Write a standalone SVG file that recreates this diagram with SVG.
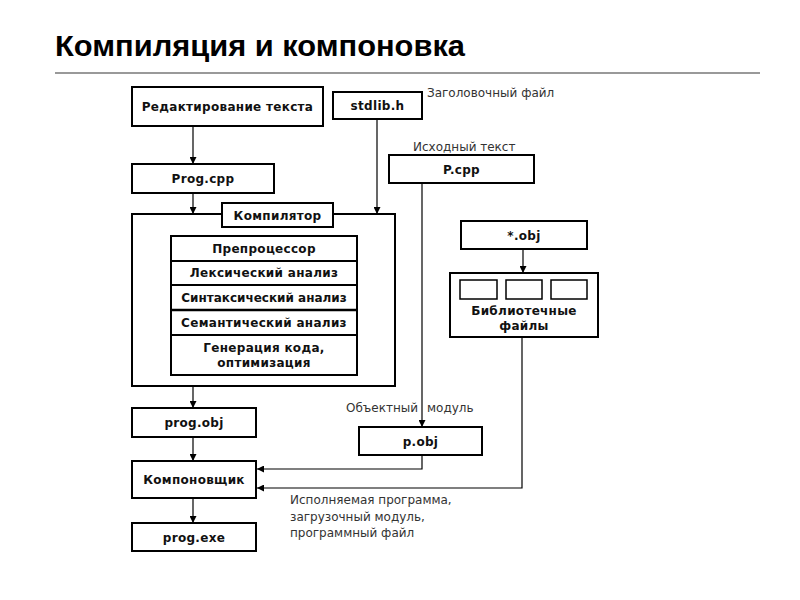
<svg xmlns="http://www.w3.org/2000/svg" width="800" height="600" viewBox="0 0 800 600">
<style>
.box{fill:#fff;stroke:#000;stroke-width:2}
.lbl{font-family:"DejaVu Sans",sans-serif;font-size:12px;font-weight:bold;fill:#111;text-anchor:middle;letter-spacing:0.3px}
.note{font-family:"DejaVu Sans",sans-serif;font-size:12px;fill:#333}
.con{fill:none;stroke:#000;stroke-width:1.2}
</style>
<defs>
<marker id="ah" viewBox="0 0 10 10" refX="10" refY="5" markerWidth="7" markerHeight="7" markerUnits="userSpaceOnUse" orient="auto">
<path d="M0,0 L10,5 L0,10 Z" fill="#000"/>
</marker>
</defs>
<rect width="800" height="600" fill="#fff"/>
<text x="55" y="56" font-family="Liberation Sans,Arial,sans-serif" font-size="29" font-weight="bold" fill="#000" textLength="410" lengthAdjust="spacingAndGlyphs">Компиляция и компоновка</text>
<line x1="55" y1="73" x2="760" y2="73" stroke="#999" stroke-width="2"/>

<g id="connectors">
<line class="con" x1="193" y1="126" x2="193" y2="164" marker-end="url(#ah)"/>
<line class="con" x1="193" y1="193" x2="193" y2="214" marker-end="url(#ah)"/>
<line class="con" x1="377" y1="119" x2="377" y2="214" marker-end="url(#ah)"/>
<line class="con" x1="193" y1="386" x2="193" y2="408" marker-end="url(#ah)"/>
<line class="con" x1="193" y1="437" x2="193" y2="461" marker-end="url(#ah)"/>
<line class="con" x1="193" y1="498" x2="193" y2="523" marker-end="url(#ah)"/>
<line class="con" x1="422" y1="183" x2="422" y2="427" marker-end="url(#ah)"/>
<polyline class="con" points="422,455 422,469 257,469" marker-end="url(#ah)"/>
<line class="con" x1="523" y1="249" x2="523" y2="273" marker-end="url(#ah)"/>
<polyline class="con" points="522,337 522,488 257,488" marker-end="url(#ah)"/>
</g>

<g id="edit"><rect class="box" x="132" y="87" width="191" height="39"/><text class="lbl" x="227.5" y="111">Редактирование текста</text></g>
<g id="stdlib"><rect class="box" x="333" y="92" width="89" height="27"/><text class="lbl" x="377.5" y="110">stdlib.h</text></g>
<text class="note" x="427" y="97">Заголовочный файл</text>
<text class="note" x="413" y="151">Исходный текст</text>
<g id="pcpp"><rect class="box" x="389" y="155" width="145" height="28"/><text class="lbl" x="461.5" y="174">P.cpp</text></g>
<g id="progcpp"><rect class="box" x="132" y="164" width="142" height="29"/><text class="lbl" x="203" y="183">Prog.cpp</text></g>

<g id="compiler">
<rect class="box" x="132" y="214" width="263" height="172"/>
<rect class="box" x="222" y="203" width="111" height="24"/>
<text class="lbl" x="277.5" y="220">Компилятор</text>
<rect class="box" x="171" y="236" width="186" height="139"/>
<line x1="171" y1="261" x2="357" y2="261" stroke="#000" stroke-width="2"/>
<line x1="171" y1="285" x2="357" y2="285" stroke="#000" stroke-width="2"/>
<line x1="171" y1="310" x2="357" y2="310" stroke="#000" stroke-width="2.5"/>
<line x1="171" y1="335" x2="357" y2="335" stroke="#000" stroke-width="2"/>
<text class="lbl" x="264" y="253">Препроцессор</text>
<text class="lbl" x="264" y="277">Лексический анализ</text>
<text class="lbl" x="264" y="302" style="letter-spacing:0">Синтаксический анализ</text>
<text class="lbl" x="264" y="327">Семантический анализ</text>
<text class="lbl" x="264" y="352">Генерация кода,</text>
<text class="lbl" x="264" y="367">оптимизация</text>
</g>

<g id="objstar"><rect class="box" x="461" y="221" width="126" height="28"/><text class="lbl" x="524" y="240">*.obj</text></g>
<g id="lib">
<rect class="box" x="450" y="273" width="148" height="64"/>
<rect x="460" y="280" width="37" height="19" fill="#fff" stroke="#000" stroke-width="1.5"/>
<rect x="506" y="280" width="36" height="19" fill="#fff" stroke="#000" stroke-width="1.5"/>
<rect x="551" y="280" width="36" height="19" fill="#fff" stroke="#000" stroke-width="1.5"/>
<text class="lbl" x="524" y="315">Библиотечные</text>
<text class="lbl" x="524" y="330">файлы</text>
</g>

<text class="note" x="346" y="412">Объектный</text>
<text class="note" x="427" y="412">модуль</text>

<g id="progobj"><rect class="box" x="132" y="408" width="124" height="29"/><text class="lbl" x="194" y="427">prog.obj</text></g>
<g id="pobj"><rect class="box" x="359" y="427" width="123" height="28"/><text class="lbl" x="420.5" y="446">p.obj</text></g>
<g id="linker"><rect class="box" x="132" y="461" width="124" height="37"/><text class="lbl" x="194" y="484">Компоновщик</text></g>
<g id="progexe"><rect class="box" x="132" y="523" width="124" height="28"/><text class="lbl" x="194" y="542">prog.exe</text></g>

<text class="note" x="290" y="504">Исполняемая программа,</text>
<text class="note" x="290" y="521">загрузочный модуль,</text>
<text class="note" x="290" y="537">программный файл</text>
</svg>
